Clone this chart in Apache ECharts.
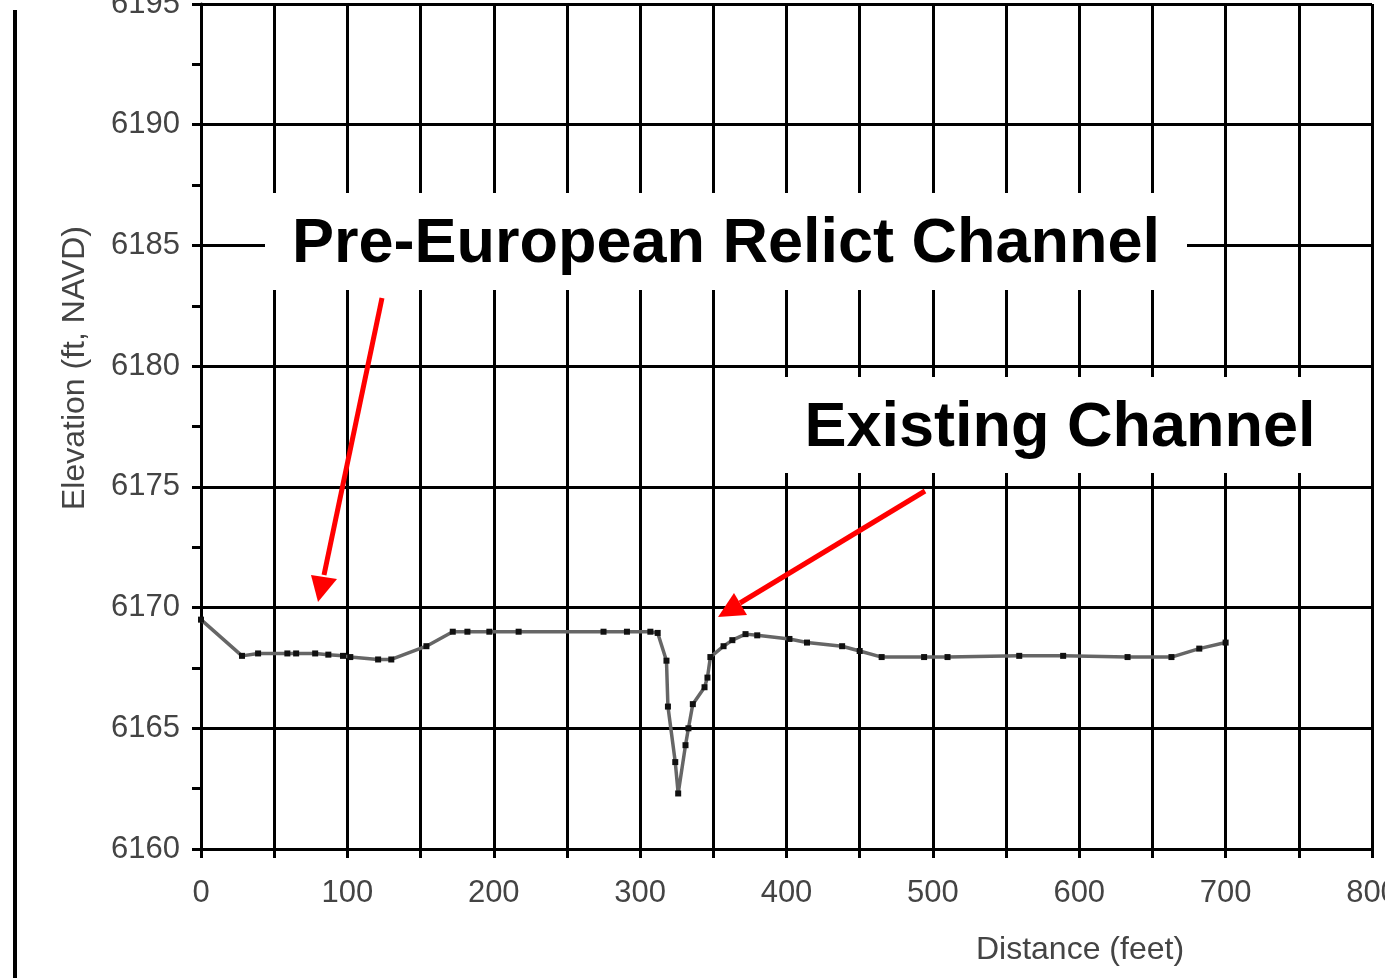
<!DOCTYPE html>
<html>
<head>
<meta charset="utf-8">
<script src="https://cdn.jsdelivr.net/npm/echarts@6/dist/echarts.min.js"></script>
<style>
html,body{margin:0;padding:0;background:#fff;}
#c{width:1385px;height:978px;}
</style>
</head>
<body>
<div id="c"></div>
<script>
// Distance along cross-section (feet)
var distance = [0, 28, 39, 59, 65, 78, 87, 97, 102, 121, 130, 154, 172, 182, 197, 217, 275, 291, 307, 312, 318, 319, 324, 326, 331, 333, 336, 344, 346, 348, 357, 363, 372, 380, 402, 414, 438, 450, 465, 494, 510, 559, 589, 633, 663, 682, 700];
// Elevation (ft, NAVD)
var elevation = [6169.5, 6168.0, 6168.1, 6168.1, 6168.1, 6168.1, 6168.05, 6168.0, 6167.95, 6167.85, 6167.85, 6168.4, 6169.0, 6169.0, 6169.0, 6169.0, 6169.0, 6169.0, 6169.0, 6168.95, 6167.8, 6165.9, 6163.6, 6162.3, 6164.3, 6165.0, 6166.0, 6166.7, 6167.1, 6167.95, 6168.4, 6168.65, 6168.9, 6168.85, 6168.7, 6168.55, 6168.4, 6168.2, 6167.95, 6167.95, 6167.95, 6168.0, 6168.0, 6167.95, 6167.95, 6168.3, 6168.55];
var xTickLabels = [0, 100, 200, 300, 400, 500, 600, 700, 800];
var yTickLabels = [6160, 6165, 6170, 6175, 6180, 6185, 6190, 6195];
var xAxisTitle = 'Distance (feet)';
var yAxisTitle = 'Elevation (ft, NAVD)';
var label1 = 'Pre-European Relict Channel';
var label2 = 'Existing Channel';

var points = distance.map(function (d, i) { return [d, elevation[i]]; });
var FONT = '"Liberation Sans", Arial, sans-serif';

var chart = echarts.init(document.getElementById('c'));
var option = {
  animation: false,
  backgroundColor: '#fff',
  grid: { left: 201, right: 13, top: 4, bottom: 129, containLabel: false, outerBoundsMode: 'none' },
  xAxis: {
    type: 'value',
    min: 0, max: 800, interval: 50,
    axisLine: { show: true, lineStyle: { color: '#000', width: 3 } },
    axisTick: { show: true, length: 9, lineStyle: { color: '#000', width: 3 } },
    splitLine: { show: true, lineStyle: { color: '#000', width: 3 } },
    axisLabel: {
      margin: 29, fontSize: 31, color: '#444', fontFamily: FONT, hideOverlap: false,
      formatter: function (v) { return xTickLabels.indexOf(v) >= 0 ? String(v) : ''; }
    }
  },
  yAxis: {
    type: 'value',
    min: 6160, max: 6195, interval: 5,
    axisLine: { show: true, lineStyle: { color: '#000', width: 3 } },
    axisTick: { show: true, length: 9, lineStyle: { color: '#000', width: 3 } },
    minorTick: { show: true, splitNumber: 2, length: 9, lineStyle: { color: '#000', width: 3 } },
    splitLine: { show: true, lineStyle: { color: '#000', width: 3 } },
    axisLabel: {
      margin: 21, fontSize: 31, color: '#444', fontFamily: FONT, hideOverlap: false,
      formatter: function (v) { return yTickLabels.indexOf(v) >= 0 ? String(v) : ''; }
    }
  },
  series: [{
    type: 'line',
    data: points,
    symbol: 'rect',
    symbolSize: 6,
    showSymbol: true,
    lineStyle: { color: '#666', width: 3.5 },
    itemStyle: { color: '#111' },
    z: 5
  }],
  graphic: [
    { type: 'line', z: 100, shape: { x1: 15, y1: 10, x2: 15, y2: 978 }, style: { stroke: '#000', lineWidth: 4 } },
    { type: 'text', z: 100, x: 75, y: 368, rotation: Math.PI / 2,
      style: { text: yAxisTitle, fontSize: 32, fontFamily: FONT, fill: '#444', align: 'center', verticalAlign: 'middle' } },
    { type: 'text', z: 100, x: 1080, y: 950,
      style: { text: xAxisTitle, fontSize: 32, fontFamily: FONT, fill: '#444', align: 'center', verticalAlign: 'middle' } },
    { type: 'rect', z: 100, shape: { x: 265, y: 193, width: 922, height: 97 }, style: { fill: '#fff' } },
    { type: 'text', z: 101, x: 726, y: 245,
      style: { text: label1, fontSize: 63, fontWeight: 'bold', fontFamily: FONT, fill: '#000', align: 'center', verticalAlign: 'middle' } },
    { type: 'rect', z: 100, shape: { x: 780, y: 377, width: 590, height: 96 }, style: { fill: '#fff' } },
    { type: 'text', z: 101, x: 1060, y: 429,
      style: { text: label2, fontSize: 63, fontWeight: 'bold', fontFamily: FONT, fill: '#000', align: 'center', verticalAlign: 'middle' } },
    // arrows
    { type: 'line', z: 102, shape: { x1: 382, y1: 298, x2: 324, y2: 575 }, style: { stroke: '#ff0000', lineWidth: 5 } },
    { type: 'polygon', z: 102, shape: { points: [[318, 602], [311, 575], [337, 579]] }, style: { fill: '#ff0000' } },
    { type: 'line', z: 102, shape: { x1: 925, y1: 491, x2: 740, y2: 603 }, style: { stroke: '#ff0000', lineWidth: 5 } },
    { type: 'polygon', z: 102, shape: { points: [[718, 617], [734, 593], [747, 615]] }, style: { fill: '#ff0000' } }
  ]
};
chart.setOption(option);
</script>
</body>
</html>
